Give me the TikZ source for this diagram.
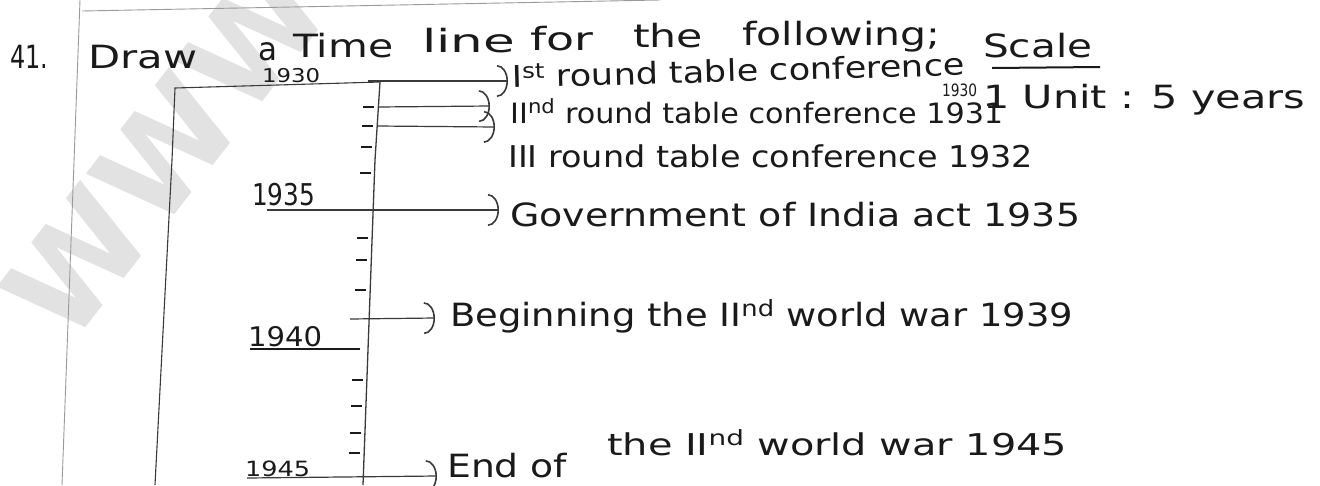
\documentclass[tikz,border=0pt]{standalone}
\usepackage{fontspec}
\setmainfont{DejaVu Sans}
\usepackage{graphicx}
\usetikzlibrary{arrows.meta}
\newcommand{\fitto}[2]{\resizebox{#1}{\height}{#2}}
\newcommand{\fsz}[1]{\fontsize{#1}{#1}\selectfont}
\definecolor{ink}{HTML}{1A1A1A}
\definecolor{penline}{HTML}{3A3A3A}
\definecolor{paperrule}{HTML}{9A9A9A}
\definecolor{wmark}{HTML}{E2E2E2}
\tikzset{
  txt/.style={inner sep=0pt, anchor=base west, text=ink, font=\fsz{30}},
  ttl/.style={txt, font=\fsz{32}},
  yr/.style={txt, font=\fsz{28}},
  pen/.style={draw=penline, line width=1.3pt},
  tick/.style={draw=ink, line width=1.4pt},
  evarrow/.style={draw=penline, line width=1.2pt, -{Arc Barb[length=11pt,width=32pt,line width=1.6pt]}},
  ruleline/.style={draw=paperrule, line width=0.9pt}
}
\begin{document}
\begin{tikzpicture}[x=1pt,y=-1pt]
\useasboundingbox[fill=white] (0,0) rectangle (1320,485);
% watermark
\node[text=wmark, font=\fsz{130}\bfseries, rotate=52, inner sep=0pt] (wm) at (165,150) {WWW};
% paper rules
\coordinate (rtA) at (82,11);
\coordinate (rtB) at (660,0);
\coordinate (mgA) at (80,0);
\coordinate (mgB) at (62,485);
\draw[ruleline] (rtA) -- (rtB);
\draw[ruleline] (mgA) -- (mgB);
% box and axis
\coordinate (axtop) at (380,82);
\coordinate (axmid) at (375,160);
\coordinate (axbot) at (363,485);
\coordinate (bxtop) at (175,88);
\coordinate (bxmid) at (172,160);
\coordinate (bxbot) at (155,485);
\draw[pen, line width=1.1pt] (axtop) -- (bxtop) -- (bxmid) -- (bxbot);
\draw[pen] (axtop) -- (axmid) -- (axbot);
% ticks
\foreach \yy/\xx in {107/378.4,126/377.2,147/375.8,173/374.5,238/372.1,260/371.3,290/370.2,380/366.9,406/365.9,433/364.9,453/364.2}{
  \draw[tick] (\xx-15,\yy) -- (\xx-4,\yy);
}
% title
\node[ttl, font=\fsz{32}] (t41) at (10,68) {\fitto{38pt}{41.}};
\node[ttl] (tdraw) at (88,68) {\fitto{109pt}{Draw}};
\node[ttl] (ta) at (258,60) {\fitto{19pt}{a}};
\node[ttl] (ttime) at (293,57) {\fitto{100pt}{Time}};
\node[ttl] (tline) at (422,52) {\fitto{93pt}{line}};
\node[ttl] (tfor) at (530,50) {\fitto{63pt}{for}};
\node[ttl] (tthe) at (633,47) {\fitto{70pt}{the}};
\node[ttl] (tfoll) at (742,45) {\fitto{198pt}{following;}};
\node[ttl] (tscale) at (983,57) {\fitto{109pt}{Scale}};
\coordinate (sulA) at (992,68);
\coordinate (sulB) at (1100,67);
\draw[draw=ink, line width=2pt] (sulA) -- (sulB);
\node[txt, font=\fsz{19}] (y30a) at (262,82) {\fitto{58pt}{1930}};
% scale note
\node[txt, font=\fsz{17}] (y30b) at (942,96) {\fitto{35pt}{1930}};
\node[txt, font=\fsz{32}] (tunit) at (983,108) {\fitto{322pt}{1 Unit : 5 years}};
% events
\node[txt, rotate=1.6] (e1) at (512,88) {\fitto{453pt}{I\textsuperscript{st} round table conference}};
\node[txt, font=\fsz{28}] (e2) at (510,123) {\fitto{493pt}{II\textsuperscript{nd} round table conference 1931}};
\node[txt] (e3) at (508,167) {\fitto{525pt}{III round table conference 1932}};
\node[txt, font=\fsz{32}] (e4) at (510,226) {\fitto{570pt}{Government of India act 1935}};
\node[txt, font=\fsz{32}] (e5) at (450,326) {\fitto{623pt}{Beginning the II\textsuperscript{nd} world war 1939}};
\node[txt, font=\fsz{32}] (e6a) at (447,477) {\fitto{120pt}{End of}};
\node[txt] (e6b) at (607,455) {\fitto{460pt}{the II\textsuperscript{nd} world war 1945}};
% year labels
\node[yr, font=\fsz{30}] (y35) at (252,205) {\fitto{63pt}{1935}};
\node[yr, font=\fsz{27}] (y40) at (248,346) {\fitto{74pt}{1940}};
\node[yr, font=\fsz{21}] (y45) at (245,476) {\fitto{65pt}{1945}};
\coordinate (ul40A) at (250,349);
\coordinate (ul40B) at (360,349);
\draw[draw=ink, line width=1.8pt] (ul40A) -- (ul40B);
% arrows
\coordinate (s30) at (368,81);  \coordinate (h30) at (508,81);
\coordinate (s31) at (378,107); \coordinate (h31) at (490,106);
\coordinate (s32) at (377,126); \coordinate (h32) at (495,127);
\coordinate (s35) at (267,210); \coordinate (h35) at (499,210);
\coordinate (s39) at (350,319); \coordinate (h39) at (435,318);
\coordinate (s45) at (247,478); \coordinate (h45) at (437,476);
\draw[evarrow] (s30) -- (h30);
\draw[evarrow] (s31) -- (h31);
\draw[evarrow] (s32) -- (h32);
\draw[evarrow] (s35) -- (h35);
\draw[evarrow] (s39) -- (h39);
\draw[evarrow] (s45) -- (h45);
\end{tikzpicture}
\end{document}
